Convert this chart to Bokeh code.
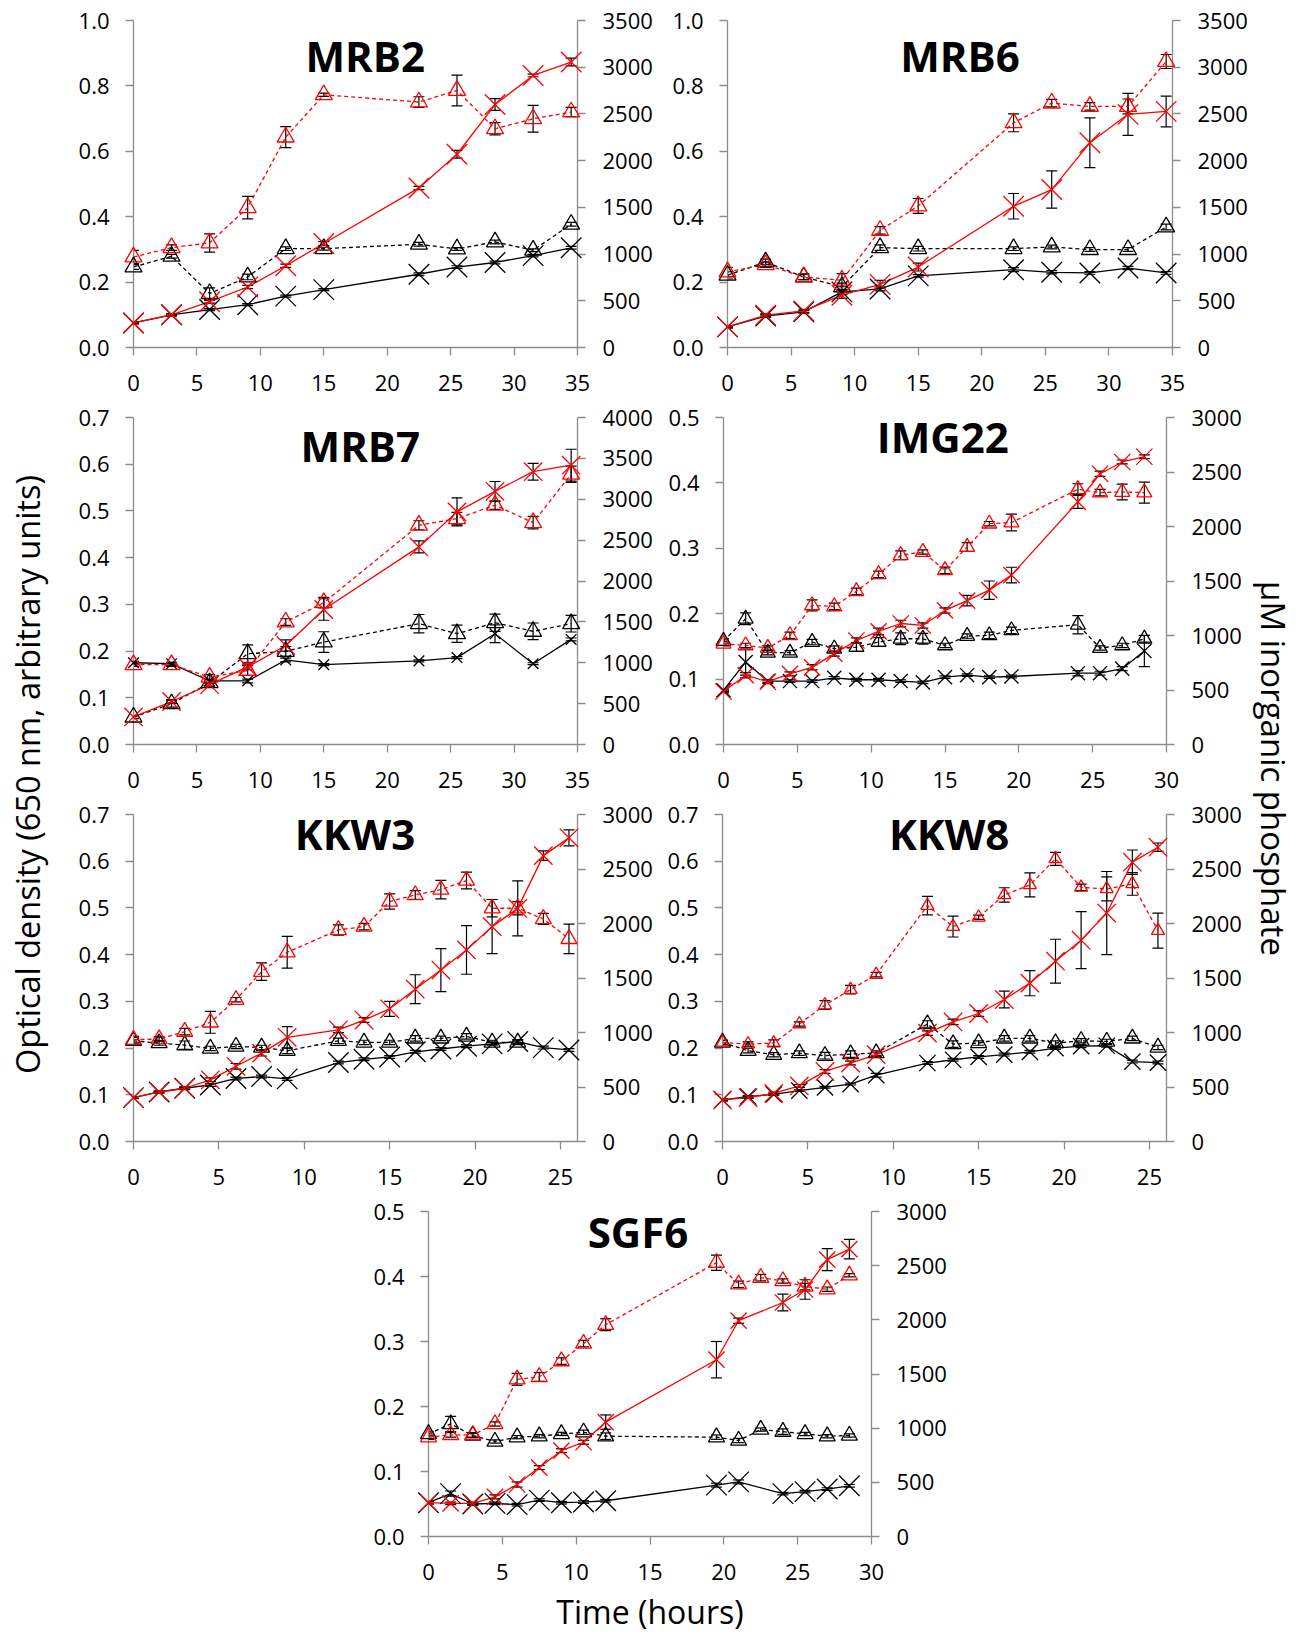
import math
from bokeh.plotting import figure
from bokeh.layouts import row, column, Spacer
from bokeh.models import (Range1d, LinearAxis, FixedTicker, PrintfTickFormatter,
                          ColumnDataSource, Whisker, TeeHead)
from bokeh.core.properties import value
from bokeh.embed import file_html
from bokeh.resources import INLINE

# ---------------- DATA ----------------
# MRB2
MRB2_t = [0, 3, 6, 9, 12, 15, 22.5, 25.5, 28.5, 31.5, 34.5]
MRB2_od_ctrl = [0.075, 0.100, 0.116, 0.131, 0.157, 0.177, 0.224, 0.246, 0.260, 0.281, 0.305]
MRB2_od_ctrl_err = [0.003, 0.003, 0.003, 0.003, 0.003, 0.003, 0.004, 0.004, 0.004, 0.004, 0.004]
MRB2_od_trt = [0.075, 0.100, 0.140, 0.185, 0.250, 0.318, 0.488, 0.591, 0.743, 0.832, 0.873]
MRB2_od_trt_err = [0.002, 0.003, 0.004, 0.005, 0.005, 0.006, 0.005, 0.012, 0.018, 0.004, 0.012]
MRB2_pi_ctrl = [862, 976, 577, 755, 1058, 1058, 1105, 1055, 1130, 1041, 1319]
MRB2_pi_ctrl_err = [25, 20, 62, 30, 20, 15, 20, 15, 20, 15, 20]
MRB2_pi_trt = [969, 1069, 1119, 1497, 2252, 2705, 2627, 2751, 2341, 2448, 2520]
MRB2_pi_trt_err = [70, 30, 98, 121, 112, 18, 57, 165, 66, 143, 50]

# MRB6
MRB6_t = [0, 3, 6, 9, 12, 15, 22.5, 25.5, 28.5, 31.5, 34.5]
MRB6_od_ctrl = [0.063, 0.096, 0.109, 0.170, 0.179, 0.219, 0.238, 0.230, 0.228, 0.243, 0.228]
MRB6_od_ctrl_err = [0.003, 0.004, 0.004, 0.008, 0.006, 0.004, 0.006, 0.005, 0.004, 0.005, 0.004]
MRB6_od_trt = [0.063, 0.099, 0.112, 0.160, 0.193, 0.246, 0.432, 0.483, 0.626, 0.713, 0.722]
MRB6_od_trt_err = [0.003, 0.004, 0.005, 0.010, 0.012, 0.012, 0.039, 0.057, 0.076, 0.064, 0.047]
MRB6_pi_ctrl = [773, 916, 755, 649, 1069, 1058, 1058, 1076, 1048, 1048, 1290]
MRB6_pi_ctrl_err = [40, 30, 30, 40, 30, 25, 20, 20, 20, 20, 30]
MRB6_pi_trt = [809, 887, 755, 720, 1254, 1515, 2405, 2616, 2580, 2580, 3061]
MRB6_pi_trt_err = [50, 30, 30, 70, 40, 80, 96, 40, 40, 80, 75]

# MRB7
MRB7_t = [0, 3, 6, 9, 12, 15, 22.5, 25.5, 28.5, 31.5, 34.5]
MRB7_od_ctrl = [0.175, 0.173, 0.136, 0.136, 0.181, 0.171, 0.179, 0.186, 0.237, 0.173, 0.225]
MRB7_od_ctrl_err = [0.003, 0.003, 0.004, 0.004, 0.004, 0.002, 0.002, 0.002, 0.019, 0.002, 0.003]
MRB7_od_trt = [0.059, 0.092, 0.128, 0.166, 0.212, 0.289, 0.423, 0.498, 0.542, 0.584, 0.598]
MRB7_od_trt_err = [0.003, 0.004, 0.004, 0.006, 0.012, 0.023, 0.013, 0.030, 0.021, 0.018, 0.034]
MRB7_pi_ctrl = [335, 498, 755, 1110, 1139, 1253, 1478, 1355, 1490, 1384, 1478]
MRB7_pi_ctrl_err = [20, 40, 40, 108, 60, 126, 112, 106, 106, 102, 102]
MRB7_pi_trt = [976, 976, 824, 906, 1498, 1735, 2682, 2763, 2927, 2714, 3306]
MRB7_pi_trt_err = [20, 20, 30, 60, 40, 65, 55, 77, 50, 77, 100]

# IMG22
IMG22_t = [0, 1.5, 3, 4.5, 6, 7.5, 9, 10.5, 12, 13.5, 15, 16.5, 18, 19.5, 24, 25.5, 27, 28.5]
IMG22_od_ctrl = [0.083, 0.126, 0.097, 0.097, 0.097, 0.102, 0.099, 0.099, 0.097, 0.095, 0.103, 0.106,
                 0.103, 0.104, 0.109, 0.109, 0.116, 0.143]
IMG22_od_ctrl_err = [0.002, 0.020, 0.002, 0.002, 0.002, 0.002, 0.002, 0.002, 0.002, 0.002, 0.002, 0.002,
                     0.002, 0.002, 0.004, 0.003, 0.003, 0.024]
IMG22_od_trt = [0.081, 0.106, 0.096, 0.108, 0.118, 0.139, 0.159, 0.173, 0.185, 0.182, 0.205, 0.220,
                0.236, 0.259, 0.371, 0.414, 0.432, 0.440]
IMG22_od_trt_err = [0.002, 0.004, 0.003, 0.003, 0.004, 0.004, 0.004, 0.005, 0.005, 0.004, 0.004, 0.008,
                    0.014, 0.012, 0.010, 0.004, 0.003, 0.003]
IMG22_pi_ctrl = [949, 1154, 842, 842, 940, 879, 894, 940, 970, 970, 909, 995, 1001, 1047, 1099, 885, 909, 970]
IMG22_pi_ctrl_err = [20, 54, 20, 20, 25, 25, 40, 40, 54, 50, 20, 20, 30, 30, 84, 20, 20, 30]
IMG22_pi_trt = [924, 909, 885, 1001, 1276, 1267, 1405, 1561, 1736, 1766, 1598, 1812, 2026, 2036, 2342,
                2311, 2317, 2311]
IMG22_pi_trt_err = [20, 20, 20, 30, 50, 30, 30, 30, 40, 20, 30, 40, 20, 77, 50, 30, 72, 96]

# KKW3
KKW3_t = [0, 1.5, 3, 4.5, 6, 7.5, 9, 12, 13.5, 15, 16.5, 18, 19.5, 21, 22.5, 24, 25.5]
KKW3_od_ctrl = [0.094, 0.106, 0.114, 0.121, 0.135, 0.139, 0.134, 0.169, 0.176, 0.181, 0.192, 0.198,
                0.204, 0.209, 0.214, 0.201, 0.196]
KKW3_od_ctrl_err = [0.002, 0.002, 0.002, 0.003, 0.003, 0.003, 0.003, 0.003, 0.003, 0.003, 0.003, 0.003,
                    0.003, 0.003, 0.004, 0.003, 0.003]
KKW3_od_trt = [0.094, 0.106, 0.114, 0.132, 0.161, 0.189, 0.223, 0.239, 0.260, 0.284, 0.326, 0.367,
               0.410, 0.460, 0.499, 0.612, 0.650]
KKW3_od_trt_err = [0.002, 0.002, 0.003, 0.004, 0.006, 0.006, 0.023, 0.006, 0.005, 0.016, 0.031, 0.046,
                   0.052, 0.058, 0.059, 0.010, 0.017]
KKW3_t_pi_ctrl = [0, 1.5, 3, 4.5, 6, 7.5, 9, 12, 13.5, 15, 16.5, 18, 19.5, 21, 22.5]
KKW3_pi_ctrl = [924, 903, 884, 854, 872, 863, 832, 924, 909, 909, 946, 946, 964, 909, 909]
KKW3_pi_ctrl_err = [30, 20, 38, 20, 20, 20, 25, 25, 20, 20, 25, 20, 25, 20, 20]
KKW3_pi_trt = [934, 940, 1008, 1093, 1301, 1558, 1736, 1941, 1972, 2201, 2262, 2311, 2394, 2140, 2140,
               2042, 1859]
KKW3_pi_trt_err = [30, 20, 30, 100, 20, 80, 145, 47, 30, 70, 40, 85, 77, 80, 60, 50, 136]

# KKW8
KKW8_t = [0, 1.5, 3, 4.5, 6, 7.5, 9, 12, 13.5, 15, 16.5, 18, 19.5, 21, 22.5, 24, 25.5]
KKW8_od_ctrl = [0.089, 0.096, 0.101, 0.109, 0.116, 0.123, 0.142, 0.168, 0.175, 0.181, 0.186, 0.192,
                0.200, 0.204, 0.205, 0.171, 0.169]
KKW8_od_ctrl_err = [0.002, 0.002, 0.002, 0.002, 0.002, 0.002, 0.004, 0.003, 0.003, 0.003, 0.003, 0.003,
                    0.003, 0.003, 0.003, 0.003, 0.003]
KKW8_od_trt = [0.089, 0.094, 0.103, 0.119, 0.150, 0.168, 0.186, 0.232, 0.256, 0.274, 0.304, 0.339,
               0.386, 0.431, 0.489, 0.598, 0.630]
KKW8_od_trt_err = [0.002, 0.002, 0.003, 0.003, 0.004, 0.004, 0.004, 0.005, 0.006, 0.006, 0.018, 0.027,
                   0.047, 0.061, 0.089, 0.026, 0.009]
KKW8_pi_ctrl = [909, 833, 796, 811, 787, 802, 811, 1078, 894, 903, 946, 946, 903, 924, 918, 946, 863]
KKW8_pi_ctrl_err = [20, 20, 20, 20, 30, 30, 20, 30, 30, 20, 25, 25, 20, 20, 20, 20, 20]
KKW8_pi_trt = [909, 894, 903, 1078, 1252, 1393, 1531, 2164, 1972, 2057, 2262, 2354, 2593, 2332, 2317,
               2363, 1935]
KKW8_pi_trt_err = [20, 20, 30, 20, 40, 40, 20, 84, 96, 20, 66, 110, 60, 30, 110, 104, 160]

# SGF6
SGF6_t = [0, 1.5, 3, 4.5, 6, 7.5, 9, 10.5, 12, 19.5, 21, 22.5, 24, 25.5, 27, 28.5]
SGF6_t_od = [0, 1.5, 3, 4.5, 6, 7.5, 9, 10.5, 12, 19.5, 21, 24, 25.5, 27, 28.5]
SGF6_od_ctrl = [0.052, 0.066, 0.050, 0.051, 0.049, 0.056, 0.052, 0.053, 0.055, 0.079, 0.084,
                0.066, 0.069, 0.073, 0.078]
SGF6_od_ctrl_err = [0.002, 0.004, 0.002, 0.002, 0.002, 0.002, 0.002, 0.002, 0.002, 0.003, 0.003,
                    0.002, 0.002, 0.002, 0.002]
SGF6_od_trt = [0.052, 0.051, 0.051, 0.061, 0.080, 0.106, 0.132, 0.145, 0.176, 0.272, 0.332, 0.360,
               0.380, 0.426, 0.442]
SGF6_od_trt_err = [0.002, 0.002, 0.002, 0.003, 0.004, 0.003, 0.003, 0.003, 0.011, 0.028, 0.004,
                   0.013, 0.015, 0.017, 0.015]
SGF6_pi_ctrl = [947, 1039, 932, 877, 917, 926, 947, 962, 926, 917, 886, 987, 968, 947, 926, 932]
SGF6_pi_ctrl_err = [20, 70, 20, 15, 15, 15, 15, 20, 30, 20, 20, 15, 25, 15, 15, 15]
SGF6_pi_trt = [917, 938, 938, 1039, 1451, 1473, 1619, 1781, 1955, 2527, 2328, 2389, 2359, 2307, 2283, 2411]
SGF6_pi_trt_err = [20, 20, 20, 20, 55, 40, 30, 30, 55, 70, 30, 30, 20, 30, 20, 15]

Y_LABEL_LEFT = "Optical density (650 nm, arbitrary units)"
Y_LABEL_RIGHT = "\u00b5M inorganic phosphate"
X_LABEL = "Time (hours)"

# ---------------- STYLE ----------------
FONT = "Open Sans"
RED = "#FF0000"
BLACK = "#000000"
AXIS_GRAY = "#8C8C8C"
TICK_FS = "22px"
TITLE_FS = "42px"


def make_panel(title, title_pos, xmax, xticks, ymax_l, yticks_l, ymax_r, yticks_r,
               series, width, height, border, x_label=None):
    bl, br, bt, bb = border
    p = figure(width=width, height=height, x_range=Range1d(0, xmax), y_range=Range1d(0, ymax_l),
               toolbar_location=None, output_backend="svg",
               min_border_left=bl, min_border_right=br, min_border_top=bt, min_border_bottom=bb)
    p.outline_line_color = None
    p.grid.visible = False
    p.extra_y_ranges = {"p": Range1d(0, ymax_r)}
    rax = LinearAxis(y_range_name="p", ticker=FixedTicker(ticks=yticks_r))
    p.add_layout(rax, "right")
    p.xaxis.ticker = FixedTicker(ticks=xticks)
    p.yaxis[0].ticker = FixedTicker(ticks=yticks_l)
    p.yaxis[0].formatter = PrintfTickFormatter(format="%.1f")
    for ax in [p.xaxis[0], p.yaxis[0], rax]:
        ax.axis_line_color = AXIS_GRAY
        ax.axis_line_width = 1.3
        ax.major_tick_line_color = AXIS_GRAY
        ax.major_tick_line_width = 1.3
        ax.major_tick_out = 8
        ax.major_tick_in = 0
        ax.minor_tick_line_color = None
        ax.major_label_text_font = FONT
        ax.major_label_text_font_size = TICK_FS
        ax.major_label_text_color = BLACK
    p.xaxis[0].major_label_standoff = 19
    p.yaxis[0].major_label_standoff = 16
    rax.major_label_standoff = 17
    if x_label:
        p.xaxis[0].axis_label = x_label
        p.xaxis[0].axis_label_text_font = FONT
        p.xaxis[0].axis_label_text_font_size = "32px"
        p.xaxis[0].axis_label_text_font_style = "normal"
        p.xaxis[0].axis_label_text_color = BLACK
        p.xaxis[0].axis_label_standoff = 7

    for (t, y, e, side, color, dash, marker, size) in series:
        rn = "p" if side == "r" else "default"
        src = ColumnDataSource(dict(t=t, y=y,
                                    lo=[a - b for a, b in zip(y, e)],
                                    hi=[a + b for a, b in zip(y, e)]))
        p.add_layout(Whisker(source=src, base="t", upper="hi", lower="lo", dimension="height",
                             y_range_name=rn, line_color=BLACK, line_width=1.2,
                             upper_head=TeeHead(size=11, line_color=BLACK, line_width=1.2),
                             lower_head=TeeHead(size=11, line_color=BLACK, line_width=1.2)))
        p.line("t", "y", source=src, y_range_name=rn, line_color=color, line_width=1.3,
               line_dash=dash)
        p.scatter("t", "y", source=src, y_range_name=rn, marker=marker, size=size,
                  line_color=color, fill_color=None, line_width=1.3, level="overlay")

    p.text(x=[title_pos[0]], y=[title_pos[1]], text=[title], text_font=value(FONT),
           text_font_style="bold", text_font_size=TITLE_FS, text_align="center",
           text_baseline="middle", text_color=BLACK)
    return p


def four(t_bx, odc, odce, t_rx, odt, odte, t_bt, pic, pice, t_rt, pit, pite, sz):
    return [
        (t_bt, pic, pice, "r", BLACK, "4 3", "triangle", sz[2]),
        (t_bx, odc, odce, "l", BLACK, "solid", "x", sz[0]),
        (t_rt, pit, pite, "r", RED, "4 3", "triangle", sz[3]),
        (t_rx, odt, odte, "l", RED, "solid", "x", sz[1]),
    ]


X35 = [0, 5, 10, 15, 20, 25, 30, 35]
X30 = [0, 5, 10, 15, 20, 25, 30]
X25 = [0, 5, 10, 15, 20, 25]
Y10 = [0.0, 0.2, 0.4, 0.6, 0.8, 1.0]
Y07 = [0.0, 0.1, 0.2, 0.3, 0.4, 0.5, 0.6, 0.7]
Y05 = [0.0, 0.1, 0.2, 0.3, 0.4, 0.5]
R3500 = [0, 500, 1000, 1500, 2000, 2500, 3000, 3500]
R4000 = [0, 500, 1000, 1500, 2000, 2500, 3000, 3500, 4000]
R3000 = [0, 500, 1000, 1500, 2000, 2500, 3000]

p_mrb2 = make_panel("MRB2", (18.27, 0.892), 35, X35, 1.0, Y10, 3500, R3500,
                    four(MRB2_t, MRB2_od_ctrl, MRB2_od_ctrl_err, MRB2_t, MRB2_od_trt, MRB2_od_trt_err,
                         MRB2_t, MRB2_pi_ctrl, MRB2_pi_ctrl_err, MRB2_t, MRB2_pi_trt, MRB2_pi_trt_err,
                         (29, 29, 17, 17)),
                    595, 401, (73, 78, 20, 54))
p_mrb6 = make_panel("MRB6", (18.29, 0.892), 35, X35, 1.0, Y10, 3500, R3500,
                    four(MRB6_t, MRB6_od_ctrl, MRB6_od_ctrl_err, MRB6_t, MRB6_od_trt, MRB6_od_trt_err,
                         MRB6_t, MRB6_pi_ctrl, MRB6_pi_ctrl_err, MRB6_t, MRB6_pi_trt, MRB6_pi_trt_err,
                         (29, 29, 17, 17)),
                    595, 401, (72, 78, 20, 54))
p_mrb7 = make_panel("MRB7", (17.88, 0.640), 35, X35, 0.7, Y07, 4000, R4000,
                    four(MRB7_t, MRB7_od_ctrl, MRB7_od_ctrl_err, MRB7_t, MRB7_od_trt, MRB7_od_trt_err,
                         MRB7_t, MRB7_pi_ctrl, MRB7_pi_ctrl_err, MRB7_t, MRB7_pi_trt, MRB7_pi_trt_err,
                         (15, 26, 17, 17)),
                    595, 397, (73, 78, 16, 54))
p_img22 = make_panel("IMG22", (14.85, 0.471), 30, X30, 0.5, Y05, 3000, R3000,
                     four(IMG22_t, IMG22_od_ctrl, IMG22_od_ctrl_err, IMG22_t, IMG22_od_trt, IMG22_od_trt_err,
                          IMG22_t, IMG22_pi_ctrl, IMG22_pi_ctrl_err, IMG22_t, IMG22_pi_trt, IMG22_pi_trt_err,
                          (20, 23, 15, 15)),
                     595, 397, (68, 84, 16, 54))
p_kkw3 = make_panel("KKW3", (12.97, 0.659), 26, X25, 0.7, Y07, 3000, R3000,
                    four(KKW3_t, KKW3_od_ctrl, KKW3_od_ctrl_err, KKW3_t, KKW3_od_trt, KKW3_od_trt_err,
                         KKW3_t_pi_ctrl, KKW3_pi_ctrl, KKW3_pi_ctrl_err, KKW3_t, KKW3_pi_trt, KKW3_pi_trt_err,
                         (29, 26, 16, 16)),
                    595, 397, (73, 78, 16, 54))
p_kkw8 = make_panel("KKW8", (13.27, 0.659), 26, X25, 0.7, Y07, 3000, R3000,
                    four(KKW8_t, KKW8_od_ctrl, KKW8_od_ctrl_err, KKW8_t, KKW8_od_trt, KKW8_od_trt_err,
                         KKW8_t, KKW8_pi_ctrl, KKW8_pi_ctrl_err, KKW8_t, KKW8_pi_trt, KKW8_pi_trt_err,
                         (23, 26, 16, 13)),
                    595, 397, (67, 84, 16, 54))
p_sgf6 = make_panel("SGF6", (14.19, 0.469), 30, X30, 0.5, Y05, 3000, R3000,
                    four(SGF6_t_od, SGF6_od_ctrl, SGF6_od_ctrl_err, SGF6_t_od, SGF6_od_trt, SGF6_od_trt_err,
                         SGF6_t, SGF6_pi_ctrl, SGF6_pi_ctrl_err, SGF6_t, SGF6_pi_trt, SGF6_pi_trt_err,
                         (29, 23, 16, 16)),
                    595, 440, (73, 79, 16, 97), x_label=X_LABEL)


def label_fig(width, height, text, x, y, angle, fs):
    f = figure(width=width, height=height, x_range=Range1d(0, width), y_range=Range1d(0, height),
               toolbar_location=None, output_backend="svg", min_border=0,
               x_axis_location=None, y_axis_location=None)
    f.outline_line_color = None
    f.grid.visible = False
    f.text(x=[x], y=[y], text=[text], angle=angle, text_font=value(FONT),
           text_font_size=fs, text_align="center", text_baseline="middle", text_color=BLACK)
    return f


TOTAL_H = 1635
left_lab = label_fig(60, TOTAL_H, Y_LABEL_LEFT, 27, TOTAL_H - 774, math.pi / 2, "32.5px")
right_lab = label_fig(48, TOTAL_H, Y_LABEL_RIGHT, 23, TOTAL_H - 768, -math.pi / 2, "33px")

middle = column(
    row(p_mrb2, p_mrb6),
    row(p_mrb7, p_img22),
    row(p_kkw3, p_kkw8),
    row(Spacer(width=295, height=440), p_sgf6),
)
layout = row(left_lab, middle, right_lab)

open("out.html", "w").write(file_html(layout, INLINE))
